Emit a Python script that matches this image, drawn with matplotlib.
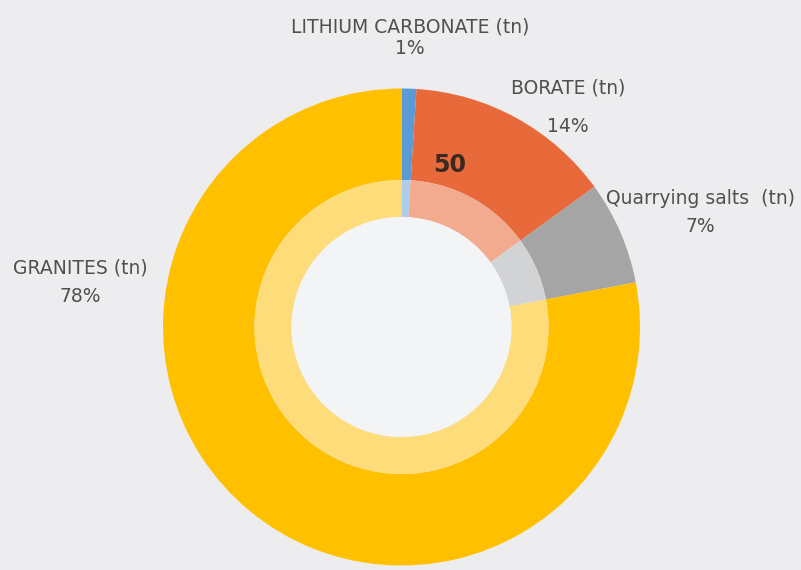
import matplotlib
matplotlib.use("Agg")
import matplotlib.pyplot as plt
from matplotlib.patches import Circle

categories = ["LITHIUM CARBONATE (tn)", "BORATE (tn)", "Quarrying salts  (tn)", "GRANITES (tn)"]
shares = [1, 14, 7, 78]
pct_labels = ["1%", "14%", "7%", "78%"]
center_value = "50"

outer_colors = ["#5B9BD5", "#E8693A", "#A5A5A5", "#FFC000"]
inner_colors = ["#AECDEB", "#F3AB90", "#D2D3D4", "#FFDC7A"]
bg = "#EDEDEF"

W, H = 801, 570
fig = plt.figure(figsize=(W / 100, H / 100), dpi=100, facecolor=bg)
ax = fig.add_axes([0, 0, 1, 1])
ax.set_facecolor(bg)

cx, cy = 401.5, H - 327
R_out, R_mid, R_in = 238.5, 147, 110

ax.pie(shares, colors=outer_colors, startangle=90, counterclock=False,
       radius=R_out, center=(cx, cy), wedgeprops=dict(width=R_out - R_mid, linewidth=0))
ax.pie(shares, colors=inner_colors, startangle=90, counterclock=False,
       radius=R_mid, center=(cx, cy), wedgeprops=dict(width=R_mid - R_in, linewidth=0))
ax.add_patch(Circle((cx, cy), R_in, facecolor="#F2F4F5", edgecolor="none"))

ax.set_xlim(0, W)
ax.set_ylim(0, H)
ax.set_aspect("equal")
ax.axis("off")

fam = ["DejaVu Sans"]
tc = "#505050"
fs = 13.5
# label positions (pixel coords, y from top)
lab_pos = [(410, 27, 410, 49), (568, 88, 568, 126), (700, 198, 700, 226), (80, 268, 80, 296)]
for (lx, ly, px, py), name, pct in zip(lab_pos, categories, pct_labels):
    ax.text(lx, H - ly, name, ha="center", va="center", fontsize=fs, color=tc, family=fam)
    ax.text(px, H - py, pct, ha="center", va="center", fontsize=fs, color=tc, family=fam)

ax.text(450, H - 165, center_value, ha="center", va="center", fontsize=17,
        fontweight="bold", color="#3A2A22", family=fam)

fig.savefig("out.png", dpi=100, facecolor=bg)
